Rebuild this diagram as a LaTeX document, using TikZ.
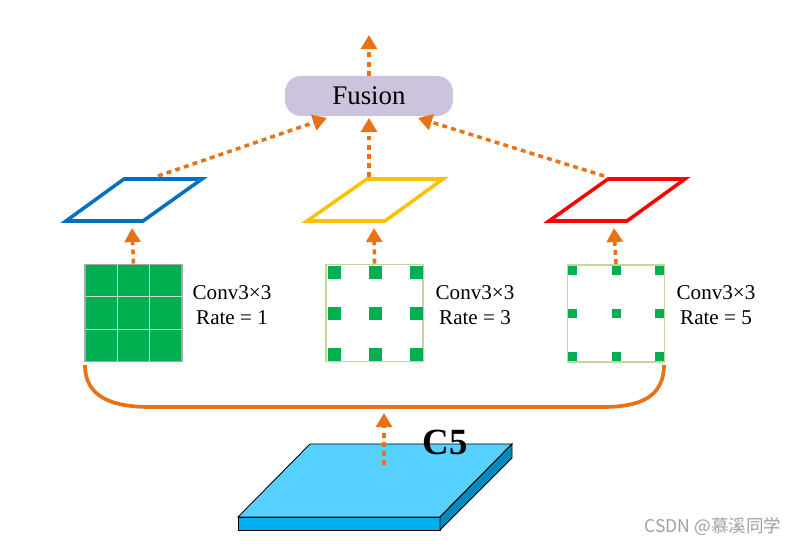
\documentclass[tikz,border=0pt]{standalone}
\usepackage{fontspec}
\setmainfont{Liberation Serif}
\newfontfamily\cjk{Noto Sans CJK SC}
\usetikzlibrary{arrows.meta}
\definecolor{flowOrange}{RGB}{233,113,22}
\definecolor{fusionLilac}{RGB}{204,195,220}
\definecolor{planeBlue}{RGB}{0,112,192}
\definecolor{planeYellow}{RGB}{255,192,0}
\definecolor{planeRed}{RGB}{255,0,0}
\definecolor{dotGreen}{RGB}{0,176,80}
\definecolor{boxGreen}{RGB}{195,214,155}
\definecolor{slabTop}{RGB}{85,208,255}
\definecolor{slabFront}{RGB}{0,176,240}
\definecolor{slabSide}{RGB}{0,138,188}

\begin{document}
\begin{tikzpicture}[x=0.02cm,y=-0.02cm,
  flow/.style={draw=flowOrange,line width=2pt,dash pattern=on 2.8pt off 2.4pt,-{Triangle[length=8pt,width=9pt,fill=flowOrange]}},
  plane/.style={line width=2pt,line join=miter},
  kernel/.style={draw=boxGreen,line width=1.1pt,minimum size=1.94cm,inner sep=0pt},
  convText/.style={align=center,font=\fontsize{12}{14.2}\selectfont}]
\useasboundingbox (0,0) rectangle (798,546);

\node[fill=fusionLilac,rounded corners=0.32cm,minimum width=3.36cm,minimum height=0.8cm,font=\fontsize{15.3}{18}\selectfont] (fusion) at (369,96) {Fusion};
\coordinate (out) at (369,35);
\draw[flow] (fusion.north) -- (out);

% parallelograms
\draw[plane,draw=planeBlue] (66,221) -- (143,221) -- (202,179) -- (124,179) -- cycle;
\draw[plane,draw=planeYellow] (307,221) -- (385,221) -- (443,179) -- (367,179) -- cycle;
\draw[plane,draw=planeRed] (549,221) -- (627,221) -- (685,179) -- (608,179) -- cycle;
\coordinate (blueTop) at (158,176);
\coordinate (yellowTop) at (369,177);
\coordinate (redTop) at (604,176);
\coordinate (inL) at (327,118);
\coordinate (inM) at (369,118);
\coordinate (inR) at (418,118);
\draw[flow] (blueTop) -- (inL);
\draw[flow] (yellowTop) -- (inM);
\draw[flow] (redTop) -- (inR);

% kernels
\node[kernel,draw={rgb,255:red,166;green,166;blue,166},fill=dotGreen] (g1) at (133.5,313) {};
\draw[line width=0.9pt,color={rgb,255:red,215;green,215;blue,215}] (117.3,264.5) -- (117.3,361.5) (149.7,264.5) -- (149.7,361.5) (85.5,296.7) -- (181.5,296.7) (85.5,329.3) -- (181.5,329.3);
\node[kernel] (g2) at (374.5,313) {};
\foreach \x in {334,375,416} \foreach \y in {273,314,355}
  \fill[dotGreen] ({\x-6.5},{\y-6.5}) rectangle ++(13,13);
\node[kernel] (g3) at (616,313.5) {};
\foreach \x in {572.5,616.5,659} \foreach \y in {271,314,357}
  \fill[dotGreen] ({\x-4.5},{\y-4.5}) rectangle ++(9,9);

\node[convText] (lab1) at (232,305.5) {Conv3×3\\Rate = 1};
\node[convText] (lab2) at (475,305.5) {Conv3×3\\Rate = 3};
\node[convText] (lab3) at (716,305.5) {Conv3×3\\Rate = 5};

\coordinate (p1in) at (132,228);
\coordinate (p2in) at (374,228);
\coordinate (p3in) at (614,228);
\draw[flow] (g1.north) -- (p1in);
\draw[flow] (g2.north) -- (p2in);
\draw[flow] (g3.north) -- (p3in);

% bracket
\coordinate (brL) at (85,365);
\coordinate (brR) at (664,365);
\draw[flowOrange,line width=2.1pt] (brL) .. controls (85,397) and (112,407) .. (150,407) -- (603,407) .. controls (640,407) and (664,397) .. (brR);

% C5 slab
\draw[fill=slabTop,line width=0.5pt] (238,517) -- (310,444) -- (512,444) -- (440,517) -- cycle;
\draw[fill=slabFront,line width=0.5pt] (238,517) rectangle (440,530);
\draw[fill=slabSide,line width=0.5pt] (440,517) -- (512,444) -- (512,458) -- (440,530) -- cycle;
\coordinate (c5Base) at (384,465);
\coordinate (bridge) at (384,413);
\draw[flow] (c5Base) -- (bridge);
\node[font=\bfseries\fontsize{21}{24}\selectfont] (c5) at (445,442) {C5};

\node[text={rgb,255:red,160;green,160;blue,160},font=\cjk\fontsize{10}{12}\selectfont] (mark) at (713,527) {CSDN @慕溪同学};
\end{tikzpicture}
\end{document}
